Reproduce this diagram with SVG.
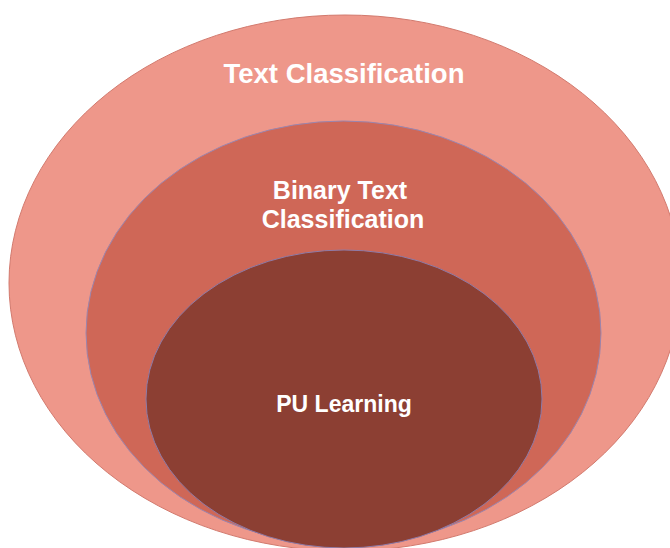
<svg xmlns="http://www.w3.org/2000/svg" width="670" height="548" viewBox="0 0 670 548">
  <style>
    .lbl { font-family: "Liberation Sans", Arial, sans-serif; font-weight: bold; fill: #FFFFFF; text-anchor: middle; }
    .outer { fill: #EE978A; stroke: #D27A6E; stroke-width: 1; }
    .middle { fill: #CF6757; stroke: #9A86B0; stroke-width: 1; }
    .inner { fill: #8C3F33; stroke: #8E7BA8; stroke-width: 1; }
  </style>
  <rect width="670" height="548" fill="#FFFFFF"/>
  <g id="text-classification">
    <ellipse class="outer" cx="345" cy="283" rx="336" ry="268"/>
    <text class="lbl" x="344" y="83" font-size="27.5">Text Classification</text>
  </g>
  <g id="binary-text-classification">
    <ellipse class="middle" cx="343.5" cy="333" rx="257.5" ry="212"/>
    <text class="lbl" x="340" y="199" font-size="25">Binary Text</text>
    <text class="lbl" x="343" y="228" font-size="25">Classification</text>
  </g>
  <g id="pu-learning">
    <ellipse class="inner" cx="344" cy="399" rx="198" ry="149"/>
    <text class="lbl" x="344" y="411.5" font-size="23">PU Learning</text>
  </g>
  <g id="connectors"/>
</svg>
